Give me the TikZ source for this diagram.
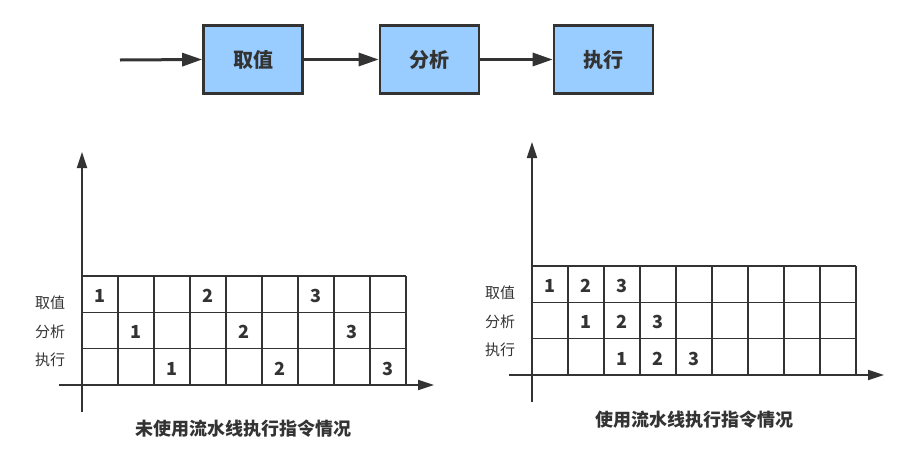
\documentclass[tikz,border=0pt]{standalone}
\usepackage{fontspec}
\setmainfont{Noto Sans CJK SC}
\usetikzlibrary{arrows.meta}
\definecolor{ink}{HTML}{333333}
\definecolor{boxfill}{HTML}{99CCFF}
\tikzset{
  stage/.style={draw=ink, line width=2.6pt, fill=boxfill, minimum width=99pt, minimum height=68pt, inner sep=0pt, font=\fontsize{20}{20}\selectfont\bfseries, text=ink},
  flow/.style={draw=ink, line width=3pt, -{Triangle[length=20pt,width=13pt]}},
  gridline/.style={draw=ink, line width=1.6pt},
  axis/.style={draw=ink, line width=1.8pt, -{Triangle[length=16pt,width=10pt]}},
  num/.style={font=\fontsize{18}{18}\selectfont\bfseries, text=ink, inner sep=0pt},
  rowlab/.style={font=\fontsize{15}{15}\selectfont, text=ink, inner sep=0pt},
  caption/.style={font=\fontsize{18}{18}\selectfont\bfseries, text=ink, inner sep=0pt}
}
\begin{document}
\begin{tikzpicture}[x=1pt,y=-1pt]
\useasboundingbox (0,0) rectangle (908,464);
% top flow
\coordinate (start) at (120,60);
\node[stage] (fetch) at (253,59.5) {取值};
\node[stage] (decode) at (429.5,59.5) {分析};
\node[stage] (exec) at (603.5,59.5) {执行};
\draw[flow] (start) -- (fetch.west);
\draw[flow] (fetch.east) -- (decode.west);
\draw[flow] (decode.east) -- (exec.west);

% left chart
\foreach \i in {0,...,9} \draw[gridline] (82+36*\i,276) -- (82+36*\i,385);
\foreach \j in {0,1,2} \draw[gridline] (82,276+36.33*\j) -- (406,276+36.33*\j);
\coordinate (lyb) at (82,412);
\coordinate (lyt) at (82,152);
\coordinate (lxl) at (59,385);
\coordinate (lxr) at (434,385);
\draw[axis] (lyb) -- (lyt);
\draw[axis] (lxl) -- (lxr);
\node[rowlab] (lr1) at (50,302.7) {取值};
\node[rowlab] (lr2) at (50,332.3) {分析};
\node[rowlab] (lr3) at (50,360) {执行};
\foreach \c/\r/\t/\n in {0/0/1/a1,3/0/2/a2,6/0/3/a3,1/1/1/b1,4/1/2/b2,7/1/3/b3,2/2/1/c1,5/2/2/c2,8/2/3/c3}
  \node[num] (L\n) at (100+36*\c,296+36.33*\r) {\t};
\node[caption] (lcap) at (243,429) {未使用流水线执行指令情况};

% right chart
\foreach \i in {0,...,9} \draw[gridline] (532+36*\i,266) -- (532+36*\i,375);
\foreach \j in {0,1,2} \draw[gridline] (532,266+36.33*\j) -- (856,266+36.33*\j);
\coordinate (ryb) at (532,402);
\coordinate (ryt) at (532,142);
\coordinate (rxl) at (509,375);
\coordinate (rxr) at (884,375);
\draw[axis] (ryb) -- (ryt);
\draw[axis] (rxl) -- (rxr);
\node[rowlab] (rr1) at (500,292.7) {取值};
\node[rowlab] (rr2) at (500,322.3) {分析};
\node[rowlab] (rr3) at (500,350) {执行};
\foreach \c/\r/\t/\n in {0/0/1/a1,1/0/2/a2,2/0/3/a3,1/1/1/b1,2/1/2/b2,3/1/3/b3,2/2/1/c1,3/2/2/c2,4/2/3/c3}
  \node[num] (R\n) at (550+36*\c,286+36.33*\r) {\t};
\node[caption] (rcap) at (694,420) {使用流水线执行指令情况};
\end{tikzpicture}
\end{document}
